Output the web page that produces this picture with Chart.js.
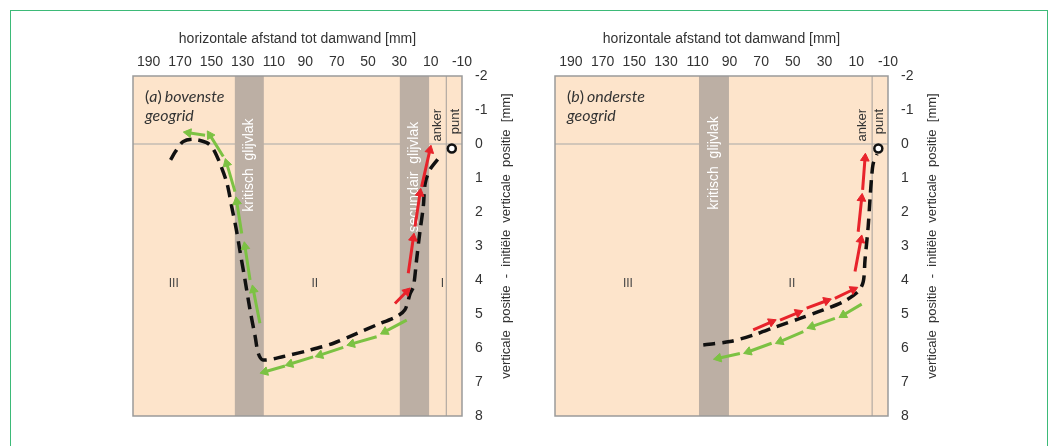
<!DOCTYPE html>
<html>
<head>
<meta charset="utf-8">
<script src="https://cdn.jsdelivr.net/npm/chart.js@4/dist/chart.umd.min.js"></script>
<style>
  html, body { margin: 0; padding: 0; background: #fff; }
  body { width: 1057px; height: 446px; position: relative; overflow: hidden; }
  .frame { position: absolute; left: 10px; top: 10px; width: 1036px; height: 470px; border: 1.5px solid #3dba78; }
  .panel { position: absolute; top: 0; height: 446px; }
  #pa { left: 0; width: 528px; }
  #pb { left: 528px; width: 529px; }
</style>
</head>
<body>
<div class="frame"></div>
<div class="panel" id="pa"><canvas id="chartA"></canvas></div>
<div class="panel" id="pb"><canvas id="chartB"></canvas></div>
<script>
// axes
const xTicks = [190, 170, 150, 130, 110, 90, 70, 50, 30, 10, -10];
const xMin = -10, xMax = 200;
const yMin = -2, yMax = 8;
const xTitle = "horizontale afstand tot damwand [mm]";
const yTitle = "verticale  positie  -  initiële  verticale  positie  [mm]";

// (a) bovenste geogrid - black dashed displacement curve
const curveAX = [176, 173, 168, 161.5, 153, 149, 144.5, 140, 137, 134, 131.5, 128.5, 125.3, 122, 120, 117, 104, 87, 72, 57, 44.5, 32, 26.5, 23, 21, 19, 17, 14.7, 13.5, 10.5, 4];
const curveAY = [0.47, 0.23, -0.07, -0.14, -0.04, 0.13, 0.57, 1.16, 1.84, 2.53, 3.21, 4.0, 4.88, 5.67, 6.16, 6.35, 6.25, 6.06, 5.86, 5.57, 5.32, 5.08, 4.88, 4.39, 4.2, 3.41, 2.63, 1.84, 1.16, 0.76, 0.37];
// arrows [x1, y1, x2, y2]
const greenA = [
  [25.3, 5.18, 39.2, 5.52], [44.5, 5.67, 60.4, 5.88], [65.8, 5.98, 80.7, 6.21],
  [85, 6.26, 99.8, 6.47], [103, 6.53, 115.8, 6.7],
  [119, 5.27, 123.2, 4.29], [125.3, 4.0, 128.5, 3.02], [130.6, 2.63, 133.8, 1.7],
  [134.9, 1.4, 140.2, 0.57], [142.4, 0.37, 150.9, -0.26], [154, -0.26, 164.7, -0.33]
];
const redA = [
  [32.8, 4.69, 25.3, 4.34], [24.3, 3.8, 21.1, 2.77], [20, 2.43, 16.8, 1.45], [15.8, 1.26, 10.5, 0.18]
];
const markerA = [{ x: -3.5, y: 0.13 }];
const bandsA = [
  { from: 116.5, to: 135, label: "kritisch  glijvlak", labelY: 0.62 },
  { from: 11, to: 29.7, label: "secundair  glijvlak", labelY: 0.97 }
];
const regionsA = [{ text: "III", x: 174 }, { text: "II", x: 84 }, { text: "I", x: 2.5 }];
const tagsA = [{ text: "anker", x: 5.4 }, { text: "punt", x: -5.5 }];

// (b) onderste geogrid
const curveBX = [106.5, 89.7, 75, 60.2, 45.5, 30.8, 18.2, 8.8, 5.6, 4.5, 2.5, 1.4, 0.3, -0.7, -3];
const curveBY = [5.91, 5.81, 5.62, 5.37, 5.13, 4.88, 4.64, 4.34, 4.05, 3.41, 2.43, 1.65, 0.96, 0.57, 0.3];
const greenB = [
  [6.6, 4.71, 18.2, 5.03], [23.5, 5.13, 38.2, 5.37], [43.4, 5.52, 58.1, 5.81],
  [63.4, 5.86, 78.1, 6.11], [83.4, 6.16, 97, 6.3]
];
const redB = [
  [75, 5.47, 63.4, 5.23], [58.1, 5.18, 46.6, 4.96], [41.3, 4.83, 28.7, 4.61], [23.5, 4.54, 11.9, 4.28],
  [10.8, 3.75, 7.1, 2.82], [8.8, 2.58, 6.6, 1.6], [6, 1.35, 4.5, 0.42]
];
const markerB = [{ x: -3.9, y: 0.13 }];
const bandsB = [{ from: 90.3, to: 109.2, label: "kritisch  glijvlak", labelY: 0.56 }];
const regionsB = [{ text: "III", x: 154 }, { text: "II", x: 50.6 }];
const tagsB = [{ text: "anker", x: 6.4 }, { text: "punt", x: -4.3 }];

const PEACH = "#fde4cb";
const BAND = "#bcafa4";
const GREEN = "#7cc243";
const RED = "#e8232b";

function zip(xs, ys) {
  return xs.map((x, i) => ({ x, y: ys[i] }));
}

function arrowData(list) {
  const d = [];
  list.forEach((a) => {
    d.push({ x: a[0], y: a[1] }, { x: a[2], y: a[3] }, { x: a[2], y: null });
  });
  return d;
}

function arrowRotation(ctx) {
  const i = ctx.dataIndex;
  if (i === undefined || i % 3 !== 1) return 0;
  const data = ctx.dataset.data;
  const xs = ctx.chart.scales.x;
  const ys = ctx.chart.scales.y;
  const dx = xs.getPixelForValue(data[i].x) - xs.getPixelForValue(data[i - 1].x);
  const dy = ys.getPixelForValue(data[i].y) - ys.getPixelForValue(data[i - 1].y);
  return Math.atan2(dx, -dy) * 180 / Math.PI;
}

function arrowSet(list, color) {
  return {
    data: arrowData(list),
    borderColor: color,
    backgroundColor: color,
    borderWidth: 3,
    spanGaps: false,
    showLine: true,
    pointStyle: "triangle",
    pointRadius: (ctx) => (ctx.dataIndex % 3 === 1 ? 5 : 0),
    pointBorderWidth: 1,
    pointRotation: arrowRotation
  };
}

const decor = {
  id: "decor",
  beforeDatasetsDraw(chart, args, o) {
    const { ctx, chartArea: a, scales: { x, y } } = chart;
    ctx.save();
    ctx.fillStyle = PEACH;
    ctx.fillRect(a.left, a.top, a.width, a.height);

    // zero line
    const y0 = y.getPixelForValue(0);
    ctx.strokeStyle = "#a7a7a7";
    ctx.lineWidth = 1.2;
    ctx.beginPath();
    ctx.moveTo(a.left, y0);
    ctx.lineTo(a.right, y0);
    ctx.stroke();

    // glijvlak bands
    o.bands.forEach((b) => {
      const x1 = x.getPixelForValue(b.from);
      const x2 = x.getPixelForValue(b.to);
      ctx.fillStyle = BAND;
      ctx.fillRect(Math.min(x1, x2), a.top, Math.abs(x2 - x1), a.height);
    });

    // damwand line at x = 0
    const xw = x.getPixelForValue(0);
    ctx.strokeStyle = "#b3aaa2";
    ctx.lineWidth = 1.2;
    ctx.beginPath();
    ctx.moveTo(xw, a.top);
    ctx.lineTo(xw, a.bottom);
    ctx.stroke();

    // band labels
    ctx.font = '14px "Liberation Sans", Arial, sans-serif';
    ctx.textAlign = "center";
    ctx.textBaseline = "middle";
    ctx.fillStyle = "#ffffff";
    o.bands.forEach((b) => {
      ctx.save();
      ctx.translate(x.getPixelForValue((b.from + b.to) / 2), y.getPixelForValue(b.labelY));
      ctx.rotate(-Math.PI / 2);
      ctx.fillText(b.label, 0, 0);
      ctx.restore();
    });

    // anker / punt
    ctx.font = '13px "Liberation Sans", Arial, sans-serif';
    ctx.fillStyle = "#333";
    ctx.textAlign = "right";
    o.tags.forEach((t) => {
      ctx.save();
      ctx.translate(x.getPixelForValue(t.x), y.getPixelForValue(-1.03));
      ctx.rotate(-Math.PI / 2);
      ctx.fillText(t.text, 0, 0);
      ctx.restore();
    });

    // zones
    ctx.font = '12px "Liberation Sans", Arial, sans-serif';
    ctx.fillStyle = "#444";
    ctx.textAlign = "center";
    o.regions.forEach((r) => {
      ctx.fillText(r.text, x.getPixelForValue(r.x), y.getPixelForValue(4.1));
    });

    // panel label
    ctx.textAlign = "left";
    ctx.textBaseline = "alphabetic";
    ctx.fillStyle = "#333";
    ctx.font = '16px Lato, "Open Sans", sans-serif';
    const lx = a.left + 12;
    ctx.fillText("(", lx, a.top + 26);
    let w = ctx.measureText("(").width;
    ctx.font = 'italic 16px Lato, "Open Sans", sans-serif';
    ctx.fillText(o.letter, lx + w, a.top + 26);
    w += ctx.measureText(o.letter).width;
    ctx.font = '16px Lato, "Open Sans", sans-serif';
    ctx.fillText(")", lx + w, a.top + 26);
    w += ctx.measureText(")").width + 3;
    ctx.font = 'italic 16px Lato, "Open Sans", sans-serif';
    ctx.fillText(o.word, lx + w, a.top + 26);
    ctx.fillText("geogrid", lx, a.top + 45);

    // plot frame
    ctx.strokeStyle = "#9a9a9a";
    ctx.lineWidth = 1.5;
    ctx.strokeRect(a.left, a.top, a.width, a.height);
    ctx.restore();
  },
  afterDraw(chart) {
    const { ctx, chartArea: a } = chart;
    ctx.save();
    ctx.translate(a.right + 44, (a.top + a.bottom) / 2 - 10);
    ctx.rotate(-Math.PI / 2);
    ctx.font = '13px "Liberation Sans", Arial, sans-serif';
    ctx.fillStyle = "#333";
    ctx.textAlign = "center";
    ctx.textBaseline = "middle";
    ctx.fillText(yTitle, 0, 0);
    ctx.restore();
  }
};

function makeChart(id, p) {
  return new Chart(document.getElementById(id), {
    type: "scatter",
    data: {
      datasets: [
        {
          data: p.marker,
          pointStyle: "circle",
          pointRadius: 4,
          pointBorderWidth: 2.5,
          borderColor: "#111",
          backgroundColor: "#fff"
        },
        arrowSet(p.red, RED),
        arrowSet(p.green, GREEN),
        {
          data: zip(p.cx, p.cy),
          showLine: true,
          borderColor: "#111",
          borderWidth: 3.5,
          borderDash: [12, 7],
          tension: 0.3,
          pointRadius: 0
        }
      ]
    },
    options: {
      responsive: true,
      maintainAspectRatio: false,
      animation: false,
      events: [],
      layout: { padding: p.padding },
      plugins: {
        legend: { display: false },
        tooltip: { enabled: false },
        decor: { bands: p.bands, regions: p.regions, tags: p.tags, letter: p.letter, word: p.word }
      },
      scales: {
        x: {
          type: "linear",
          position: "top",
          reverse: true,
          min: xMin,
          max: xMax,
          grid: { display: false },
          border: { display: false },
          afterBuildTicks: (s) => { s.ticks = xTicks.map((v) => ({ value: v })); },
          afterFit: (s) => { s.height = 76; },
          ticks: {
            padding: -3,
            maxRotation: 0,
            autoSkip: false,
            color: "#333",
            font: { family: '"Liberation Sans", Arial, sans-serif', size: 14 }
          },
          title: {
            display: true,
            text: xTitle,
            color: "#333",
            padding: { top: 31, bottom: 0 },
            font: { family: '"Liberation Sans", Arial, sans-serif', size: 14 }
          }
        },
        y: {
          type: "linear",
          position: "right",
          reverse: true,
          min: yMin,
          max: yMax,
          grid: { display: false },
          border: { display: false },
          afterFit: (s) => { s.width = 66; },
          ticks: {
            stepSize: 1,
            padding: 5,
            crossAlign: "near",
            color: "#333",
            font: { family: '"Liberation Sans", Arial, sans-serif', size: 14 }
          }
        }
      }
    },
    plugins: [decor]
  });
}

makeChart("chartA", {
  cx: curveAX, cy: curveAY, green: greenA, red: redA, marker: markerA,
  bands: bandsA, regions: regionsA, tags: tagsA, letter: "a", word: "bovenste",
  padding: { left: 133, top: 0, right: 0, bottom: 30 }
});

makeChart("chartB", {
  cx: curveBX, cy: curveBY, green: greenB, red: redB, marker: markerB,
  bands: bandsB, regions: regionsB, tags: tagsB, letter: "b", word: "onderste",
  padding: { left: 27, top: 0, right: 103, bottom: 30 }
});
</script>
</body>
</html>
